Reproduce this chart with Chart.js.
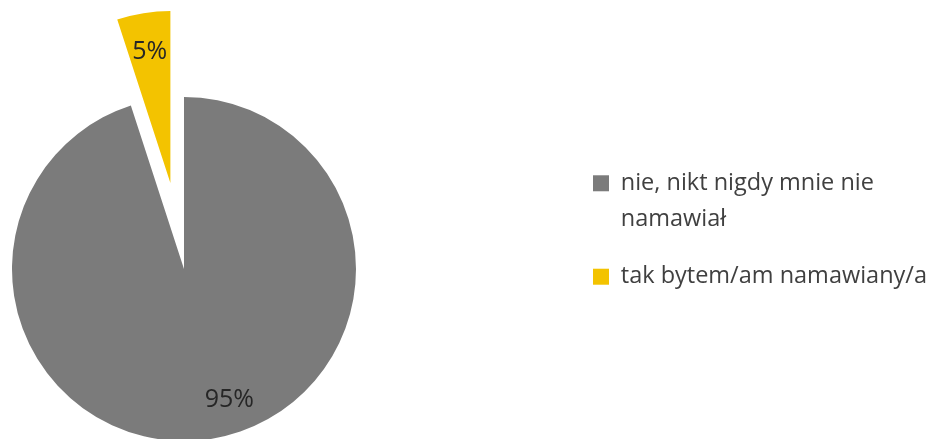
<!DOCTYPE html>
<html>
<head>
<meta charset="utf-8">
<script src="https://cdn.jsdelivr.net/npm/chart.js@4/dist/chart.umd.min.js"></script>
<style>
  html, body { margin: 0; padding: 0; background: #fff; overflow: hidden; }
  #wrap { width: 930px; height: 439px; position: relative; }
</style>
</head>
<body>
<div id="wrap"><canvas id="pie"></canvas></div>
<script>
// data
const categories = [['nie, nikt nigdy mnie nie', 'namawiał'], 'tak bytem/am namawiany/a'];
const shares = [95, 5];
const sliceColors = ['#7b7b7b', '#f3c300'];
const pullOut = [0, 87]; // how far each slice is exploded (px)

// where the pie sits on the page
const pieBox = { cx: 184, cy: 269, r: 172 };
const labelDepth = 0.77;

const excelPie = {
  id: 'excelPie',
  afterLayout(chart) {
    // legend keeps its own place, the pie is centred on pieBox
    const a = chart.chartArea;
    const half = pieBox.r * 2;
    a.left = pieBox.cx - half;
    a.right = pieBox.cx + half;
    a.top = pieBox.cy - half;
    a.bottom = pieBox.cy + half;
    a.width = a.right - a.left;
    a.height = a.bottom - a.top;
  },
  afterDatasetsUpdate(chart) {
    // explode slices like excel: move the whole wedge along its middle angle
    chart.getDatasetMeta(0).data.forEach((arc, i) => {
      const mid = (arc.startAngle + arc.endAngle) / 2;
      arc.x += Math.cos(mid) * pullOut[i];
      arc.y += Math.sin(mid) * pullOut[i];
    });
  },
  afterDatasetsDraw(chart) {
    const ctx = chart.ctx;
    const data = chart.data.datasets[0].data;
    const total = data.reduce((s, v) => s + v, 0);
    ctx.save();
    ctx.font = '25px "Open Sans"';
    ctx.fillStyle = '#262626';
    ctx.textBaseline = 'middle';
    chart.getDatasetMeta(0).data.forEach((arc, i) => {
      const mid = (arc.startAngle + arc.endAngle) / 2;
      const d = arc.outerRadius * labelDepth;
      const x = arc.x + Math.cos(mid) * d;
      const y = arc.y + Math.sin(mid) * d;
      ctx.textAlign = x > pieBox.cx + 5 ? 'left' : 'center';
      ctx.fillText(Math.round(data[i] / total * 100) + '%', x, y);
    });
    ctx.restore();
  }
};

new Chart(document.getElementById('pie'), {
  type: 'pie',
  data: {
    labels: categories,
    datasets: [{
      data: shares,
      backgroundColor: sliceColors,
      borderColor: sliceColors,
      borderWidth: 0,
      radius: pieBox.r
    }]
  },
  options: {
    responsive: true,
    maintainAspectRatio: false,
    animation: false,
    layout: { padding: { top: 21, right: -7, bottom: 0, left: 0 } },
    plugins: {
      legend: {
        position: 'right',
        align: 'center',
        labels: {
          boxWidth: 16,
          boxHeight: 16,
          padding: 22,
          color: '#404040',
          font: { family: 'Open Sans', size: 23.5, lineHeight: 1.52 }
        }
      },
      tooltip: { enabled: false }
    }
  },
  plugins: [excelPie]
});
</script>
</body>
</html>
